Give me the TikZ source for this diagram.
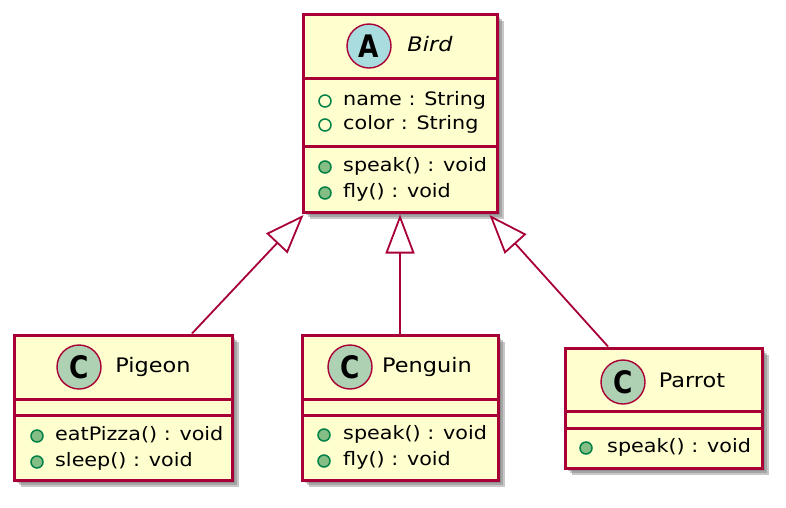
\documentclass[tikz,border=0pt]{standalone}
\usepackage{fontspec}
\setmainfont[FakeStretch=1.12]{DejaVu Sans}
\newfontfamily\iconfont[FakeStretch=0.85]{DejaVu Sans}
\usetikzlibrary{arrows.meta,shadows,calc}
\definecolor{umlred}{HTML}{A80036}
\definecolor{umlfill}{HTML}{FEFECE}
\definecolor{abstractfill}{HTML}{A9DCDF}
\definecolor{classfill}{HTML}{ADD1B2}
\definecolor{visgreen}{HTML}{038048}
\definecolor{visfill}{HTML}{84BE84}
\tikzset{
 classbox/.style={rectangle, draw=umlred, fill=umlfill, line width=3pt, inner sep=0pt,
   drop shadow={shadow xshift=3pt, shadow yshift=-3pt, fill=black!55, opacity=0.4},
   drop shadow={shadow xshift=5pt, shadow yshift=-5pt, fill=black!55, opacity=0.4},
   drop shadow={shadow xshift=7pt, shadow yshift=-7pt, fill=black!55, opacity=0.4}},
 sepline/.style={draw=umlred, line width=3pt},
 icon/.style={circle, draw=umlred, line width=1.4pt, minimum size=44pt, inner sep=0pt,
   font=\iconfont\bfseries\fontsize{31}{31}\selectfont},
 title/.style={font=\fontsize{20}{22}\selectfont, anchor=mid, inner sep=0pt, yshift=-3pt},
 member/.style={font=\fontsize{18.5}{20}\selectfont, anchor=mid west, inner sep=0pt, yshift=-1.5pt},
 field/.style={circle, draw=visgreen, line width=1.5pt, minimum size=12pt, inner sep=0pt},
 method/.style={field, fill=visfill},
 inh/.style={draw=umlred, line width=1.8pt, -{Triangle[open, length=39pt, width=29pt]}},
}
\begin{document}
\begin{tikzpicture}[x=1pt, y=-1pt]
\fill[white] (0,0) rectangle (786,507);
\useasboundingbox (0,0) rectangle (786,507);

% Bird
\node[classbox, minimum width=194pt, minimum height=198pt] (bird) at (400,113) {};
\draw[sepline] (bird.west |- 0,78) -- (bird.east |- 0,78);
\draw[sepline] (bird.west |- 0,146) -- (bird.east |- 0,146);
\node[icon, fill=abstractfill] (birdicon) at (369,46) {A};
\node[title, font=\fontsize{20}{22}\selectfont\itshape] (birdname) at (430,46) {Bird};
\node[field] (bf1) at (325,101) {};
\node[member] (bt1) at (343,101) {name : String};
\node[field] (bf2) at (325,125) {};
\node[member] (bt2) at (343,125) {color : String};
\node[method] (bm1) at (325,167) {};
\node[member] (bt3) at (343,167) {speak() : void};
\node[method] (bm2) at (325,193) {};
\node[member] (bt4) at (343,193) {fly() : void};

% Pigeon
\node[classbox, minimum width=218pt, minimum height=145pt] (pigeon) at (123,407.5) {};
\draw[sepline] (pigeon.west |- 0,399) -- (pigeon.east |- 0,399);
\draw[sepline] (pigeon.west |- 0,415) -- (pigeon.east |- 0,415);
\node[icon, fill=classfill] (pigeonicon) at (79,367) {C};
\node[title] (pigeonname) at (153,367) {Pigeon};
\node[method] (pm1) at (37,436) {};
\node[member] (pt1) at (55,436) {eatPizza() : void};
\node[method] (pm2) at (37,462) {};
\node[member] (pt2) at (55,462) {sleep() : void};

% Penguin
\node[classbox, minimum width=196pt, minimum height=145pt] (penguin) at (400,407.5) {};
\draw[sepline] (penguin.west |- 0,399) -- (penguin.east |- 0,399);
\draw[sepline] (penguin.west |- 0,415) -- (penguin.east |- 0,415);
\node[icon, fill=classfill] (penguinicon) at (350,367) {C};
\node[title] (penguinname) at (427,367) {Penguin};
\node[method] (gm1) at (324,435) {};
\node[member] (gt1) at (343,435) {speak() : void};
\node[method] (gm2) at (324,461) {};
\node[member] (gt2) at (343,461) {fly() : void};

% Parrot
\node[classbox, minimum width=197pt, minimum height=120pt] (parrot) at (663.5,408) {};
\draw[sepline] (parrot.west |- 0,411) -- (parrot.east |- 0,411);
\draw[sepline] (parrot.west |- 0,428) -- (parrot.east |- 0,428);
\node[icon, fill=classfill] (parroticon) at (623,382) {C};
\node[title] (parrotname) at (692,382) {Parrot};
\node[method] (rm1) at (586,448) {};
\node[member] (rt1) at (607,448) {speak() : void};

% Inheritance
\draw[inh] ([xshift=69pt]pigeon.north) -- ([xshift=2pt,yshift=-1.5pt]bird.south west);
\draw[inh] (penguin.north) -- ([yshift=-1pt]bird.south);
\draw[inh] ([xshift=-55.5pt]parrot.north) -- ([xshift=-9pt,yshift=-1.5pt]bird.south east);
\end{tikzpicture}
\end{document}
